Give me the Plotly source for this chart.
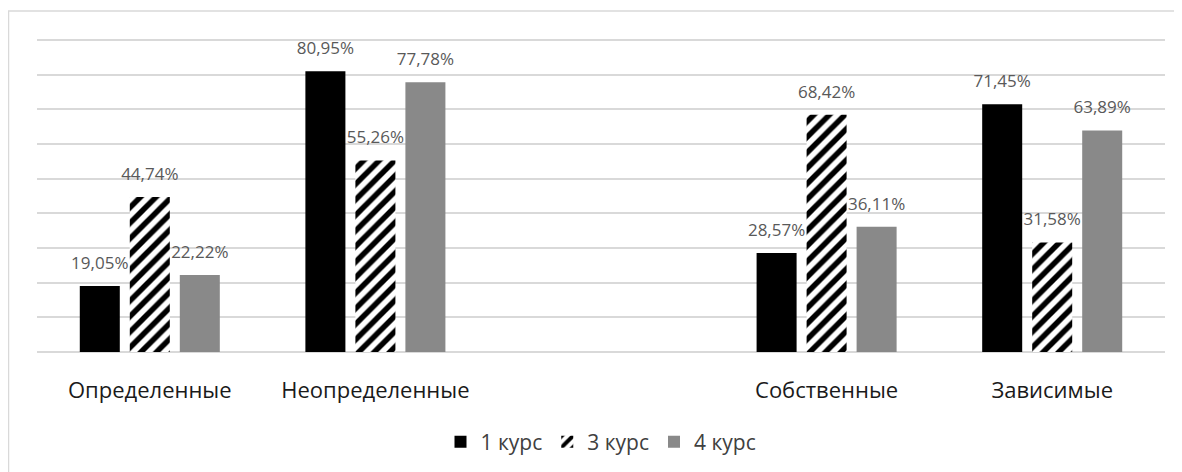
import plotly.graph_objects as go

categories = ["Определенные", "Неопределенные", " ", "Собственные", "Зависимые"]
series_names = ["1 курс", "3 курс", "4 курс"]
kurs1 = [19.05, 80.95, None, 28.57, 71.45]
kurs3 = [44.74, 55.26, None, 68.42, 31.58]
kurs4 = [22.22, 77.78, None, 36.11, 63.89]
y_ticks = [0, 10, 20, 30, 40, 50, 60, 70, 80, 90]

FONT = "Open Sans"
LABEL_SIZE = 17


def labels(vals):
    out = []
    for v in vals:
        if v is None:
            out.append("")
        else:
            s = f"{v:.2f}".replace(".", ",") + "%"
            out.append(f"<span style='font-size:{LABEL_SIZE}px'>{s}</span><br><span style='font-size:1px'>&nbsp;</span>")
    return out


fig = go.Figure()
fig.add_trace(go.Bar(
    name=series_names[0], x=categories, y=kurs1, text=labels(kurs1),
    marker=dict(color="#000000", line=dict(width=0)),
))
fig.add_trace(go.Bar(
    name=series_names[1], x=categories, y=kurs3, text=labels(kurs3),
    marker=dict(color="#ffffff", line=dict(width=0),
                pattern=dict(shape="/", fgcolor="#000000", bgcolor="#ffffff",
                             size=11, solidity=0.5, fillmode="replace")),
))
fig.add_trace(go.Bar(
    name=series_names[2], x=categories, y=kurs4, text=labels(kurs4),
    marker=dict(color="#898989", line=dict(width=0)),
))
fig.update_traces(textposition="outside", cliponaxis=False, constraintext="none",
                  textfont=dict(family=FONT, size=11, color="#595959"))

# page has an 8px body margin, so the figure is drawn 8px in from the top-left
W, H = 1174, 464
L, R, T, B = 29, 17, 28, 120
pw, ph = W - L - R, H - T - B
Y_MAX = 90 * ph / 312  # keeps 90% gridline at the same pixel row, inside the plot

fig.update_layout(
    width=W, height=H,
    margin=dict(l=L, r=R, t=T, b=B, autoexpand=False),
    paper_bgcolor="white", plot_bgcolor="white",
    barmode="group", bargap=0.335, bargroupgap=0.2,
    showlegend=True,
    legend=dict(orientation="h", x=0.5, xanchor="center",
                y=(T + ph - 434) / ph, yanchor="middle",
                font=dict(family=FONT, size=21, color="#404040"),
                itemwidth=30, traceorder="normal"),
    xaxis=dict(type="category", showgrid=False, showline=False, zeroline=False,
               ticks="outside", ticklen=19, tickcolor="rgba(0,0,0,0)",
               tickfont=dict(family=FONT, size=22, color="#1a1a1a")),
    yaxis=dict(range=[0, Y_MAX], tickvals=y_ticks, showticklabels=False,
               showgrid=True, gridcolor="#d9d9d9", gridwidth=1.5,
               zeroline=True, zerolinecolor="#d9d9d9", zerolinewidth=1.5,
               showline=False),
    shapes=[dict(type="rect", xref="paper", yref="paper",
                 x0=(0.5 - L) / pw, x1=(W + 20 - L) / pw,
                 y0=(T + ph - H - 20) / ph, y1=(T + ph - 3) / ph,
                 line=dict(color="#d9d9d9", width=1.5), fillcolor="rgba(0,0,0,0)",
                 layer="below")],
)

fig.write_html("out.html")
